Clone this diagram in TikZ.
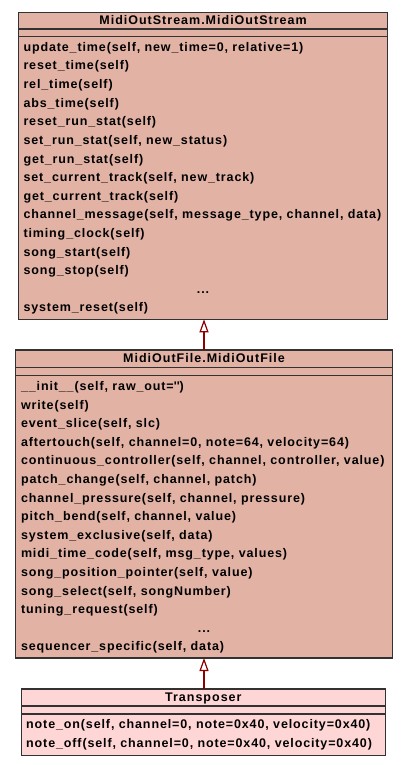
\documentclass[tikz,border=0pt]{standalone}
\usepackage{fontspec}
\setmainfont{Liberation Sans}
\newfontfamily\umlfont{Liberation Sans}[LetterSpace=7.0]
\newfontfamily\umlwide{Liberation Sans}[LetterSpace=8.0]
\usetikzlibrary{arrows.meta}
\definecolor{clsfill}{RGB}{226,178,164}
\definecolor{pinkfill}{RGB}{255,214,214}
\definecolor{bordc}{RGB}{50,50,50}
\definecolor{arrc}{RGB}{140,0,0}
\tikzset{
  cls/.style={draw=bordc, line width=1.2pt, inner sep=0pt, outer sep=0pt},
  sepline/.style={draw=bordc, line width=1.2pt},
  meth/.style={anchor=base west, inner sep=0pt, text=black, font=\umlfont\bfseries\fontsize{12.5}{14}\selectfont},
  ttl/.style={anchor=base, inner sep=0pt, text=black, font=\umlwide\bfseries\fontsize{12.5}{14}\selectfont},
  dots/.style={anchor=base, inner sep=0pt, text=black, font=\umlfont\bfseries\fontsize{12.5}{14}\selectfont},
  inh/.style={draw=arrc, line width=2pt, -{Triangle[length=13pt, width=9pt, fill=white, line width=1.2pt]}}
}
\begin{document}
\begin{tikzpicture}[x=1pt,y=-1pt]
\useasboundingbox (0,0) rectangle (408,765);
% ---------- MidiOutStream ----------
\node[cls, fill=clsfill, minimum width=369pt, minimum height=307pt] (b1) at (203,165.8) {};
\draw[sepline] (b1.west |- 0,29) -- (b1.east |- 0,29);
\draw[sepline] (b1.west |- 0,36.7) -- (b1.east |- 0,36.7);
\node[ttl] (t1) at (203,24.8) {MidiOutStream.MidiOutStream};
\foreach \m [count=\i] in {
  {update\_time(self, new\_time=0, relative=1)},
  {reset\_time(self)},
  {rel\_time(self)},
  {abs\_time(self)},
  {reset\_run\_stat(self)},
  {set\_run\_stat(self, new\_status)},
  {get\_run\_stat(self)},
  {set\_current\_track(self, new\_track)},
  {get\_current\_track(self)},
  {channel\_message(self, message\_type, channel, data)},
  {timing\_clock(self)},
  {song\_start(self)},
  {song\_stop(self)}}
  \node[meth] (m1-\i) at (23.3,{51.4+(\i-1)*18.6}) {\m};
\node[dots] (d1) at (203,293.2) {...};
\node[meth] (m1-15) at (23.3,311.8) {system\_reset(self)};
% ---------- MidiOutFile ----------
\node[cls, fill=clsfill, minimum width=376.6pt, minimum height=308pt] (b2) at (204,504) {};
\draw[sepline] (b2.west |- 0,367.5) -- (b2.east |- 0,367.5);
\draw[sepline] (b2.west |- 0,375.8) -- (b2.east |- 0,375.8);
\node[ttl] (t2) at (204,362.8) {MidiOutFile.MidiOutFile};
\foreach \m [count=\i] in {
  {\_\_init\_\_(self, raw\_out=\textquotesingle\textquotesingle)},
  {write(self)},
  {event\_slice(self, slc)},
  {aftertouch(self, channel=0, note=64, velocity=64)},
  {continuous\_controller(self, channel, controller, value)},
  {patch\_change(self, channel, patch)},
  {channel\_pressure(self, channel, pressure)},
  {pitch\_bend(self, channel, value)},
  {system\_exclusive(self, data)},
  {midi\_time\_code(self, msg\_type, values)},
  {song\_position\_pointer(self, value)},
  {song\_select(self, songNumber)},
  {tuning\_request(self)}}
  \node[meth] (m2-\i) at (20.8,{390.5+(\i-1)*18.6}) {\m};
\node[dots] (d2) at (204,632.3) {...};
\node[meth] (m2-15) at (20.8,650.9) {sequencer\_specific(self, data)};
% ---------- Transposer ----------
\node[cls, fill=pinkfill, minimum width=364.3pt, minimum height=66.5pt] (b3) at (203.35,722.25) {};
\draw[sepline] (b3.west |- 0,706) -- (b3.east |- 0,706);
\draw[sepline] (b3.west |- 0,714) -- (b3.east |- 0,714);
\node[ttl] (t3) at (203.35,701.4) {Transposer};
\node[meth] (m3-1) at (26,728.7) {note\_on(self, channel=0, note=0x40, velocity=0x40)};
\node[meth] (m3-2) at (26,747.3) {note\_off(self, channel=0, note=0x40, velocity=0x40)};
% ---------- inheritance ----------
\draw[inh] (b2.north) -- (b2.north |- b1.south);
\draw[inh] (b3.north -| b2.south) -- (b2.south);
\end{tikzpicture}
\end{document}
